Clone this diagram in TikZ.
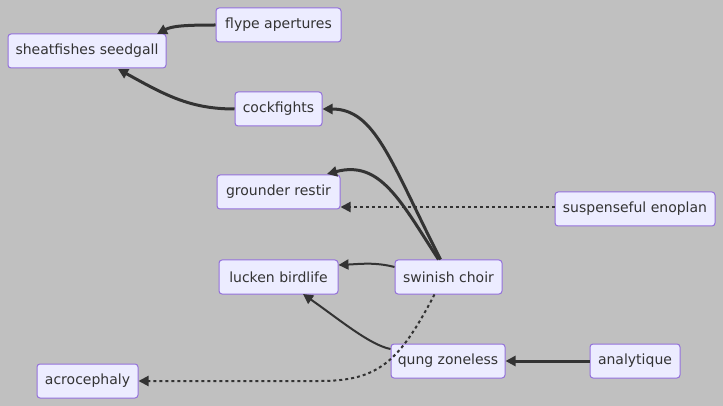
\documentclass[tikz,border=0pt]{standalone}
\usepackage{fontspec}
\setmainfont{DejaVu Sans}
\usetikzlibrary{arrows.meta}
\definecolor{bg}{HTML}{C0C0C0}
\definecolor{nodefill}{HTML}{ECECFF}
\definecolor{nodeline}{HTML}{9370DB}
\definecolor{edge}{HTML}{333333}
\tikzset{
  box/.style={draw=nodeline, fill=nodefill, line width=1pt, rounded corners=3pt,
    inner sep=0pt, text=edge, font=\fontsize{14pt}{16pt}\selectfont, minimum height=34pt},
  thick edge/.style={draw=edge, line width=3pt, -{Triangle[length=10pt,width=10pt]}},
  thin edge/.style={draw=edge, line width=2pt, -{Triangle[length=10pt,width=10pt]}},
  dotted edge/.style={draw=edge, line width=2pt, dash pattern=on 3pt off 3pt, -{Triangle[length=10pt,width=10pt]}}
}
\begin{document}
\begin{tikzpicture}[x=1pt,y=-1pt]
\fill[bg] (0,0) rectangle (723,406);
\useasboundingbox (0,0) rectangle (723,406);
\node[box, minimum width=158pt] (sheat) at (87,51) {sheatfishes seedgall};
\node[box, minimum width=125pt] (flype) at (278.5,25) {flype apertures};
\node[box, minimum width=87pt] (cock) at (278.5,109) {cockfights};
\node[box, minimum width=123pt] (ground) at (278.5,192) {grounder restir};
\node[box, minimum width=160pt] (susp) at (635,209) {suspenseful enoplan};
\node[box, minimum width=119pt] (lucken) at (278.5,277) {lucken birdlife};
\node[box, minimum width=107pt] (swin) at (448.5,277) {swinish choir};
\node[box, minimum width=114pt] (qung) at (448,361) {qung zoneless};
\node[box, minimum width=90pt] (analy) at (635,361) {analytique};
\node[box, minimum width=101pt] (acro) at (87.5,381) {acrocephaly};
\coordinate (c1) at (157,34);
\coordinate (c2) at (118,69);
\coordinate (c3) at (327,174);
\draw[thick edge] (flype.west) .. controls (185,25) and (172,26) .. (c1);
\draw[thick edge] (cock.west) .. controls (190,109) and (165,95) .. (c2);
\draw[thick edge] (swin.north) ++(-8,0) .. controls (390,160) and (375,109) .. (cock.east);
\draw[thick edge] (swin.north) ++(-10,0) .. controls (400,200) and (380,160) .. (c3);
\draw[dotted edge] (susp.west |- 0,207) -- (ground.east |- 0,207);
\draw[thin edge] (swin.west |- 0,267) .. controls (375,262) and (360,264) .. (lucken.east |- 0,265);
\draw[thin edge] (qung.west |- 0,349) .. controls (370,345) and (340,320) .. (303,294);
\draw[dotted edge] (swin.south) ++(-14,0) .. controls (400,360) and (380,381) .. (320,381) -- (acro.east);
\draw[thick edge] (analy.west) -- (qung.east);
\end{tikzpicture}
\end{document}
